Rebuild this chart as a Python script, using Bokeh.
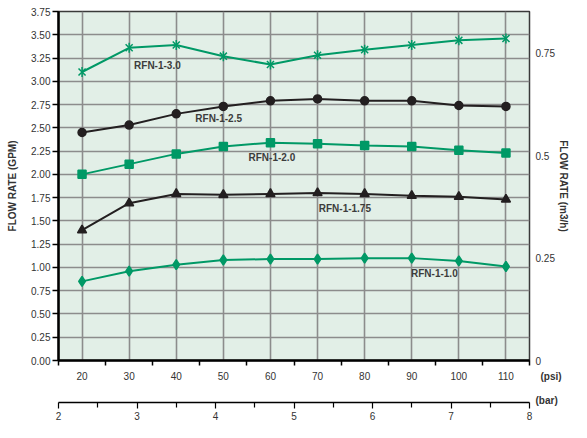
import math
from bokeh.plotting import figure
from bokeh.models import Range1d, LinearAxis, FixedTicker, NumeralTickFormatter, Label
from bokeh.core.properties import value
from bokeh.embed import file_html
from bokeh.resources import INLINE

# ---- data ----
psi = [20, 30, 40, 50, 60, 70, 80, 90, 100, 110]
bar_ticks = [2, 3, 4, 5, 6, 7, 8]
gpm_ticks = [i * 0.25 for i in range(16)]
m3h_ticks = [0, 0.25, 0.5, 0.75]
GPM_TO_M3H = 0.2271

rfn_3_0 = [3.10, 3.36, 3.39, 3.27, 3.18, 3.28, 3.34, 3.39, 3.44, 3.46]
rfn_2_5 = [2.45, 2.53, 2.65, 2.73, 2.79, 2.81, 2.79, 2.79, 2.74, 2.73]
rfn_2_0 = [2.00, 2.11, 2.22, 2.30, 2.34, 2.33, 2.31, 2.30, 2.26, 2.23]
rfn_1_75 = [1.40, 1.69, 1.79, 1.78, 1.79, 1.80, 1.79, 1.77, 1.76, 1.73]
rfn_1_0 = [0.85, 0.96, 1.03, 1.08, 1.09, 1.09, 1.10, 1.10, 1.07, 1.01]
series_names = ["RFN-1-3.0", "RFN-1-2.5", "RFN-1-2.0", "RFN-1-1.75", "RFN-1-1.0"]

# ---- styles ----
GREEN = "#009966"
BLACK = "#231f20"
FONT = "Liberation Sans"
TXT = "#333333"

p = figure(width=571, height=422,
           x_range=Range1d(15, 115), y_range=Range1d(0, 3.75),
           output_backend="svg", toolbar_location=None,
           min_border_left=58, min_border_right=30,
           min_border_top=0, min_border_bottom=50)
p.extra_y_ranges = {"m3h": Range1d(0, 3.75 * GPM_TO_M3H)}
p.extra_x_ranges = {"bar": Range1d(bar_ticks[0], bar_ticks[-1])}

p.background_fill_color = "#e2efe7"
p.border_fill_color = "white"
p.outline_line_color = "#3a3a3a"
p.outline_line_width = 1.5

# grids
p.xgrid.ticker = FixedTicker(ticks=psi)
p.ygrid.ticker = FixedTicker(ticks=gpm_ticks)
for g in (p.xgrid[0], p.ygrid[0]):
    g.grid_line_color = "#8c8c8c"
    g.grid_line_width = 1.6

def style_axis(ax):
    ax.major_label_text_font = FONT
    ax.major_label_text_font_size = "10px"
    ax.major_label_text_color = TXT
    ax.axis_label_text_font = FONT
    ax.axis_label_text_font_size = "10px"
    ax.axis_label_text_font_style = "bold"
    ax.axis_label_text_color = TXT
    ax.axis_line_color = "black"
    ax.major_tick_line_color = "black"
    ax.minor_tick_line_color = "black"

# left axis (GPM)
yax = p.yaxis[0]
style_axis(yax)
yax.ticker = FixedTicker(ticks=gpm_ticks)
yax.formatter = NumeralTickFormatter(format="0.00")
yax.axis_label = "FLOW RATE (GPM)"
yax.axis_label_standoff = 10
yax.major_label_standoff = 2
yax.major_tick_out = 6
yax.major_tick_in = 0
yax.major_tick_line_width = 1.5
yax.minor_tick_out = 0
yax.minor_tick_in = 0
yax.axis_line_width = 2.5

# right axis (m3/h)
rax = LinearAxis(y_range_name="m3h")
style_axis(rax)
rax.ticker = FixedTicker(ticks=m3h_ticks)
rax.formatter = NumeralTickFormatter(format="0.[00]")
rax.axis_label = "FLOW RATE (m3/h)"
rax.axis_label_standoff = 0
rax.major_label_standoff = 6
rax.major_tick_out = 0
rax.major_tick_in = 0
rax.minor_tick_out = 0
rax.minor_tick_in = 0
rax.axis_line_color = None
p.add_layout(rax, "right")

# bottom psi axis
xax = p.xaxis[0]
style_axis(xax)
bounds = [v - 5 for v in psi] + [psi[-1] + 5]
xax.ticker = FixedTicker(ticks=psi, minor_ticks=bounds)
xax.major_tick_out = 0
xax.major_tick_in = 0
xax.minor_tick_out = 5
xax.minor_tick_in = 0
xax.minor_tick_line_width = 1.5
xax.major_label_standoff = 6
xax.axis_line_width = 2.5
xax.axis_label = " "
xax.axis_label_text_font_size = "5px"
xax.axis_label_standoff = 0

unit_style = dict(text_font=FONT, text_font_size="10px", text_font_style="bold",
                  text_color=TXT, text_align="left", text_baseline="middle",
                  x_units="canvas", y_units="canvas")
psi_unit = Label(x=540, y=376, text="(psi)", **unit_style)
p.add_layout(psi_unit, "below")

# bottom bar axis
bax = LinearAxis(x_range_name="bar")
style_axis(bax)
halves = [b + 0.5 for b in bar_ticks[:-1]]
bax.ticker = FixedTicker(ticks=bar_ticks, minor_ticks=halves)
bax.major_tick_out = 6
bax.major_tick_in = 0
bax.minor_tick_out = 5
bax.minor_tick_in = 0
bax.major_label_standoff = 3
bax.axis_line_width = 1.5
bax.major_tick_line_width = 1.2
bax.minor_tick_line_width = 1.2
p.add_layout(bax, "below")

bar_unit = Label(x=535, y=400, text="(bar)", **unit_style)
p.add_layout(bar_unit, "above")

# series
series = [
    (rfn_3_0, GREEN, ["x", "dash"], 10),
    (rfn_2_5, BLACK, ["circle"], 8),
    (rfn_2_0, GREEN, ["square"], 8),
    (rfn_1_75, BLACK, ["triangle"], 9),
    (rfn_1_0, GREEN, ["diamond"], 10),
]
for ys, col, mks, sz in series:
    p.line(psi, ys, line_color=col, line_width=2)
    for mk in mks:
        p.scatter(psi, ys, marker=mk, size=sz, fill_color=col,
                  line_color=col, line_width=1.5,
                  angle=(math.pi / 2 if mk == "dash" else 0))

# series labels
label_pos = [(36, 3.17), (49, 2.60), (60.3, 2.185), (75.8, 1.63), (94.8, 0.93)]
for name, (lx, ly) in zip(series_names, label_pos):
    p.add_layout(Label(x=lx, y=ly, text=name, text_font=FONT,
                       text_font_size="10px", text_font_style="bold",
                       text_color="#3c3c3c", text_align="center",
                       text_baseline="middle"))

open("out.html", "w").write(file_html(p, INLINE))
